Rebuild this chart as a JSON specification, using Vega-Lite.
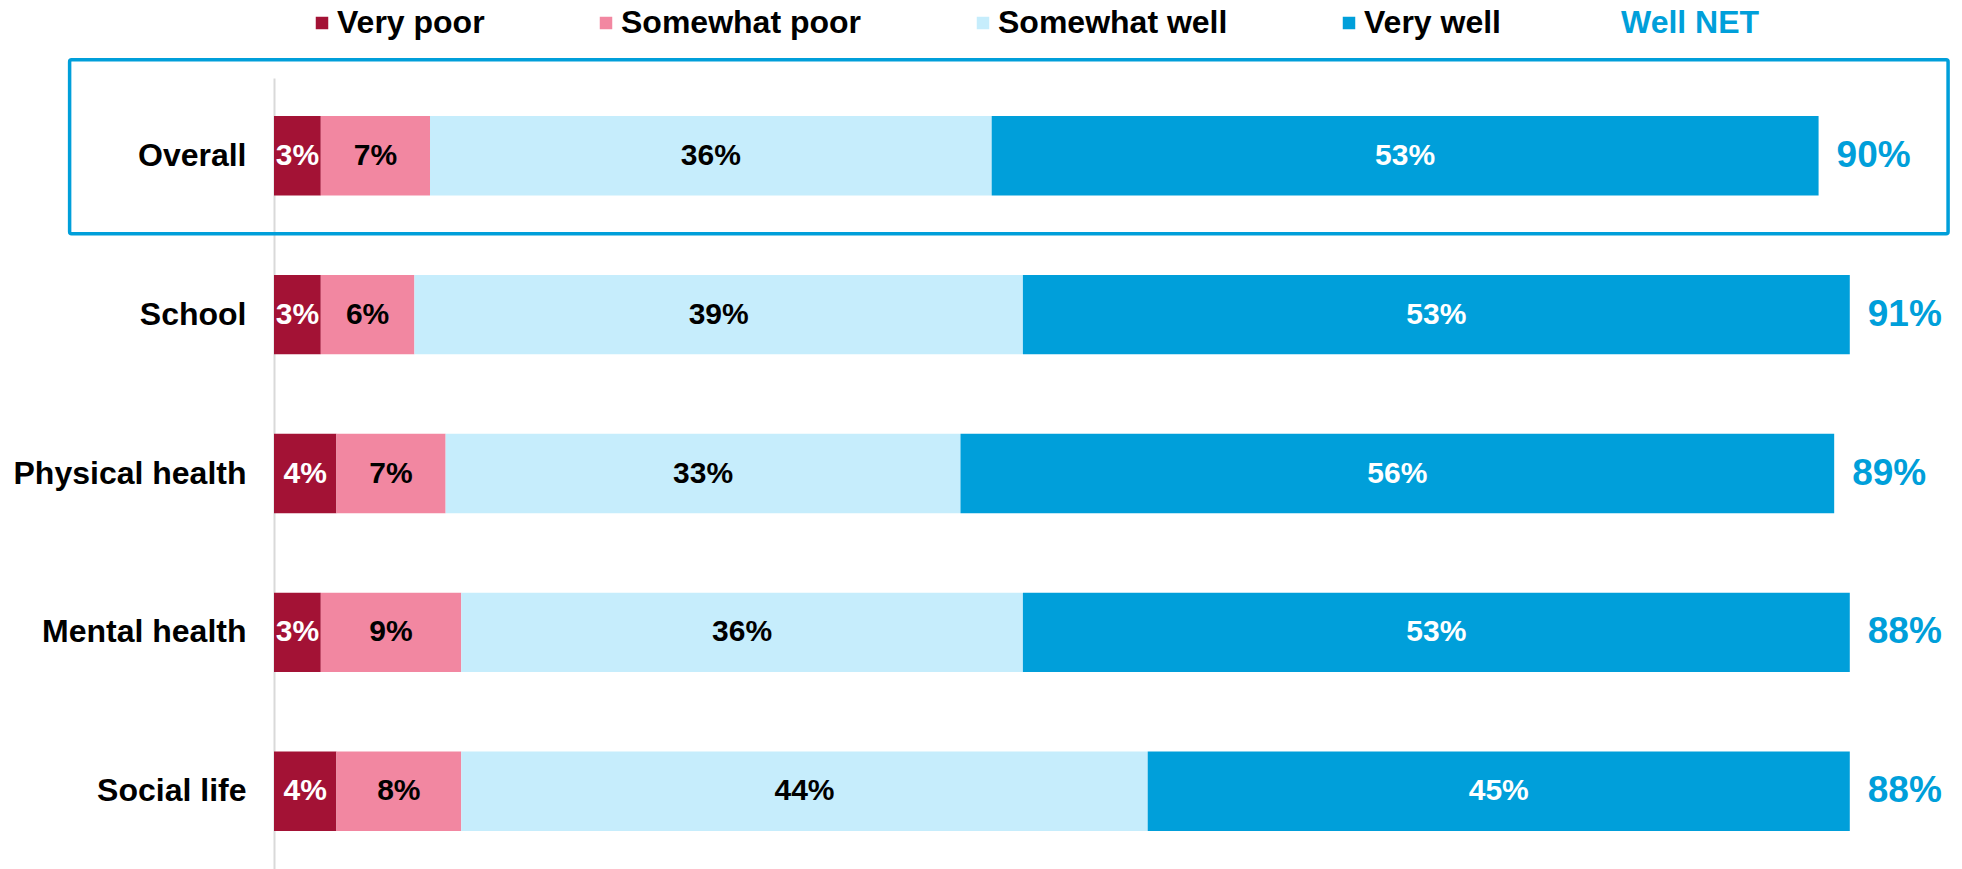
{
  "$schema": "https://vega.github.io/schema/vega-lite/v6.json",
  "width": 1685,
  "height": 791,
  "autosize": {"type": "none"},
  "padding": {"left": 274, "top": 78, "right": 0, "bottom": 0},
  "background": "white",
  "config": {"view": {"stroke": null}, "font": "Liberation Sans"},
  "datasets": {
    "segs": [
      {"cat": "Overall", "resp": "Very poor", "idx": 1, "value": 3},
      {"cat": "Overall", "resp": "Somewhat poor", "idx": 2, "value": 7},
      {"cat": "Overall", "resp": "Somewhat well", "idx": 3, "value": 36},
      {"cat": "Overall", "resp": "Very well", "idx": 4, "value": 53},
      {"cat": "School", "resp": "Very poor", "idx": 1, "value": 3},
      {"cat": "School", "resp": "Somewhat poor", "idx": 2, "value": 6},
      {"cat": "School", "resp": "Somewhat well", "idx": 3, "value": 39},
      {"cat": "School", "resp": "Very well", "idx": 4, "value": 53},
      {"cat": "Physical health", "resp": "Very poor", "idx": 1, "value": 4},
      {"cat": "Physical health", "resp": "Somewhat poor", "idx": 2, "value": 7},
      {"cat": "Physical health", "resp": "Somewhat well", "idx": 3, "value": 33},
      {"cat": "Physical health", "resp": "Very well", "idx": 4, "value": 56},
      {"cat": "Mental health", "resp": "Very poor", "idx": 1, "value": 3},
      {"cat": "Mental health", "resp": "Somewhat poor", "idx": 2, "value": 9},
      {"cat": "Mental health", "resp": "Somewhat well", "idx": 3, "value": 36},
      {"cat": "Mental health", "resp": "Very well", "idx": 4, "value": 53},
      {"cat": "Social life", "resp": "Very poor", "idx": 1, "value": 4},
      {"cat": "Social life", "resp": "Somewhat poor", "idx": 2, "value": 8},
      {"cat": "Social life", "resp": "Somewhat well", "idx": 3, "value": 44},
      {"cat": "Social life", "resp": "Very well", "idx": 4, "value": 45}
    ],
    "net": [
      {"cat": "Overall", "net": 90, "end": 99},
      {"cat": "School", "net": 91, "end": 101},
      {"cat": "Physical health", "net": 89, "end": 100},
      {"cat": "Mental health", "net": 88, "end": 101},
      {"cat": "Social life", "net": 88, "end": 101}
    ],
    "box": [{"cat": "Overall", "from": -13.1, "to": 107.3}]
  },
  "encoding": {
    "y": {
      "field": "cat",
      "type": "nominal",
      "sort": ["Overall", "School", "Physical health", "Mental health", "Social life"],
      "scale": {"paddingInner": 0.5, "paddingOuter": 0.24},
      "axis": {
        "title": null,
        "labelFontSize": 32,
        "labelFontWeight": "bold",
        "labelFont": "Liberation Sans",
        "labelColor": "#000000",
        "labelPadding": 28,
        "labelLimit": 400,
        "ticks": false,
        "domainColor": "#d9d9d9",
        "domainWidth": 2
      }
    }
  },
  "layer": [
    {
      "data": {"name": "box"},
      "mark": {
        "type": "bar",
        "fill": "#ffffff",
        "fillOpacity": 0,
        "stroke": "#009fda",
        "strokeWidth": 3.5,
        "cornerRadius": 2,
        "height": {"band": 2.19},
        "yOffset": -9
      },
      "encoding": {
        "x": {"field": "from", "type": "quantitative", "scale": {"domain": [0, 108], "nice": false, "zero": true}, "axis": null},
        "x2": {"field": "to"}
      }
    },
    {
      "data": {"name": "segs"},
      "mark": {"type": "bar"},
      "encoding": {
        "x": {"field": "value", "type": "quantitative", "stack": "zero"},
        "color": {
          "field": "resp",
          "type": "nominal",
          "scale": {
            "domain": ["Very poor", "Somewhat poor", "Somewhat well", "Very well", "Well NET"],
            "range": ["#a31235", "#f287a1", "#c6edfc", "#009fda", "#ffffff"]
          },
          "legend": {
            "title": null,
            "orient": "none",
            "legendX": 32,
            "legendY": -71,
            "direction": "horizontal",
            "symbolType": "square",
            "symbolSize": 156,
            "symbolStrokeWidth": 0,
            "labelFontSize": 32,
            "labelFontWeight": "bold",
            "labelFont": "Liberation Sans",
            "labelColor": "#000000",
            "labelOffset": -1,
            "columnPadding": 105,
            "labelLimit": 600,
            "padding": 0,
            "encode": {
              "labels": {
                "update": {
                  "fill": {"signal": "datum.label == 'Well NET' ? '#009fda' : '#000000'"},
                  "dx": {"signal": "datum.label == 'Well NET' ? -16 : 0"}
                }
              }
            }
          }
        },
        "order": {"field": "idx", "type": "quantitative"}
      }
    },
    {
      "data": {"name": "segs"},
      "transform": [
        {"stack": "value", "groupby": ["cat"], "sort": [{"field": "idx", "order": "ascending"}], "as": ["x0", "x1"]},
        {"calculate": "(datum.x0 + datum.x1) / 2", "as": "mid"}
      ],
      "mark": {
        "type": "text",
        "fontSize": 30,
        "fontWeight": "bold",
        "font": "Liberation Sans",
        "baseline": "middle",
        "align": "center",
        "text": {"expr": "datum.value + '%'"}
      },
      "encoding": {
        "x": {"field": "mid", "type": "quantitative"},
        "color": {
          "condition": {"test": "datum.resp == 'Very poor' || datum.resp == 'Very well'", "value": "#ffffff"},
          "value": "#000000"
        }
      }
    },
    {
      "data": {"name": "net"},
      "mark": {
        "type": "text",
        "align": "left",
        "baseline": "middle",
        "dx": 18,
        "fontSize": 37,
        "fontWeight": "bold",
        "font": "Liberation Sans",
        "color": "#009fda",
        "text": {"expr": "datum.net + '%'"}
      },
      "encoding": {
        "x": {"field": "end", "type": "quantitative"}
      }
    }
  ]
}
